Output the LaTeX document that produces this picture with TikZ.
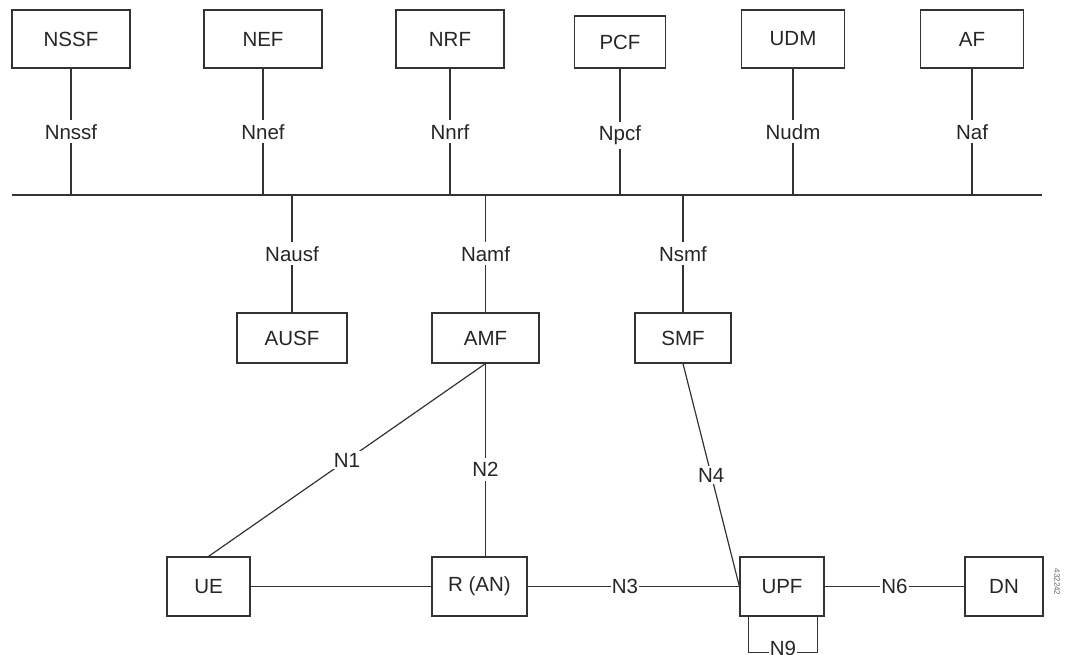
\documentclass[tikz,border=0pt]{standalone}
\usepackage{fontspec}
\setmainfont{Liberation Sans}
\usepackage{tikz}
\usetikzlibrary{calc}
\usetikzlibrary{positioning}

\begin{document}
\begin{tikzpicture}[x=1pt,y=-1pt,
	nf/.style={draw=black!80, line width=1.2pt, fill=white, text=black!85, minimum height=58pt, inner sep=0pt, font=\fontsize{20.5}{24}\selectfont},
	lbl/.style={fill=white, text=black!85, inner sep=4pt, font=\fontsize{20.5}{24}\selectfont},
	wire/.style={draw=black!80, line width=1.2pt}]

	\useasboundingbox (0,0) rectangle (1065,654);

	% service bus
	\coordinate (busL) at (12,195);
	\coordinate (busR) at (1042,195);
	\draw [wire] (busL) -- (busR);

	\node [nf, minimum width=118pt] (nssf) at (71,39) {NSSF};
	\node [nf, minimum width=118pt] (nef) at (263,39) {NEF};
	\node [nf, minimum width=108pt] (nrf) at (450,39) {NRF};
	\node [nf, minimum width=91pt, minimum height=52pt] (pcf) at (620,42) {PCF};
	\node [nf, minimum width=103pt] (udm) at (793,39) {UDM};
	\node [nf, minimum width=103pt] (af) at (972,39) {AF};

	\draw [wire] (nssf) -- node [lbl] {Nnssf} (nssf |- busL);
	\draw [wire] (nef) -- node [lbl] {Nnef} (nef |- busL);
	\draw [wire] (nrf) -- node [lbl] {Nnrf} (nrf |- busL);
	\draw [wire] (pcf) -- node [lbl, pos=.53] {Npcf} (pcf |- busL);
	\draw [wire] (udm) -- node [lbl] {Nudm} (udm |- busL);
	\draw [wire] (af) -- node [lbl] {Naf} (af |- busL);

	\node [nf, minimum width=110pt, minimum height=50pt] (ausf) at (292,338) {AUSF};
	\node [nf, minimum width=107pt, minimum height=50pt] (amf) at (485.5,338) {AMF};
	\node [nf, minimum width=96pt, minimum height=50pt] (smf) at (683,338) {SMF};

	\draw [wire] (ausf |- busL) -- node [lbl] {Nausf} (ausf);
	\draw [wire] (amf |- busL) -- node [lbl] {Namf} (amf);
	\draw [wire] (smf |- busL) -- node [lbl] {Nsmf} (smf);

	\node [nf, minimum width=83pt, minimum height=59pt] (ue) at (208.5,586.5) {UE};
	\node [nf, minimum width=95pt, minimum height=59pt] (ran) at (479.5,586.5) {R (AN)};
	\node [nf, minimum width=84pt, minimum height=59pt] (upf) at (782,586.5) {UPF};
	\node [nf, minimum width=78pt, minimum height=59pt] (dn) at (1004,586.5) {DN};

	\draw [wire] (amf.south) -- node [lbl, inner sep=2pt] {N1} (ue.north);
	\draw [wire] (amf.south) -- node [lbl, pos=.55] {N2} (amf.south |- ran.north);
	\draw [wire] (smf.south) -- node [lbl, inner sep=2pt] {N4} (upf.west);
	\draw [wire] (ue) -- (ran);
	\draw [wire] (ran) -- node [lbl, pos=.46, inner sep=1pt] {N3} (upf);
	\draw [wire] (upf) -- node [lbl, inner sep=1pt] {N6} (dn);

	\coordinate (n9a) at ([xshift=9pt]upf.south west);
	\coordinate (n9b) at ([xshift=-7pt]upf.south east);
	\draw [wire] (n9a) -- ++(0,36) -- node [lbl, inner sep=1pt, yshift=4pt] {N9} ($(n9b)+(0,36)$) -- (n9b);

	\node [rotate=-90, text=black!60, font=\fontsize{8}{9}\selectfont] (figid) at (1057,582) {432242};

\end{tikzpicture}
\end{document}
